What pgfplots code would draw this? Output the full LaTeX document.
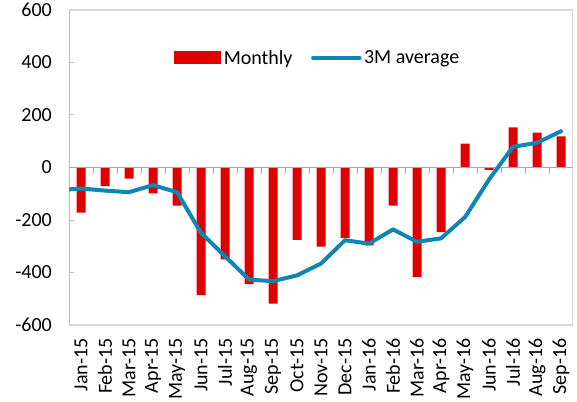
\documentclass[border=0pt]{standalone}
\usepackage{pgfplots}
\pgfplotsset{compat=1.18}
\usepackage{pgfplotstable}
\usepackage{fontspec}
\setmainfont{Carlito}
\definecolor{barred}{RGB}{224,0,0}
\definecolor{lineblue}{RGB}{14,134,180}
\definecolor{framegray}{RGB}{217,217,217}
\definecolor{axisgray}{RGB}{190,190,190}
\definecolor{zerogray}{RGB}{166,166,166}

\pgfplotstableread{
x y
0 -172
1 -71
2 -42
3 -99
4 -145
5 -486
6 -350
7 -444
8 -519
9 -276
10 -301
11 -268
12 -297
13 -145
14 -418
15 -246
16 91
17 -9
18 153
19 133
20 119
}\monthly

\pgfplotstableread{
x y
-1 -87
0 -80
1 -88
2 -94
3 -67
4 -94
5 -249
6 -338
7 -427
8 -433
9 -411
10 -366
11 -277
12 -290
13 -236
14 -283
15 -270
16 -189
17 -46
18 79
19 94
20 138
}\threem

\begin{document}
\begin{tikzpicture}[font=\fontsize{20}{24}\selectfont]
\path[use as bounding box] (-69pt,-76pt) rectangle (508pt,325pt);
\begin{axis}[
  at={(0pt,0pt)}, anchor=south west,
  scale only axis,
  width=504pt, height=315pt,
  xmin=-0.5, xmax=20.5,
  ymin=-600, ymax=600,
  ytick={-600,-400,...,600},
  ytick pos=left,
  tick align=inside,
  major tick length=5pt,
  ytick style={draw=axisgray, line width=1pt},
  xtick={0,...,20},
  xticklabels={Jan-15,Feb-15,Mar-15,Apr-15,May-15,Jun-15,Jul-15,Aug-15,Sep-15,Oct-15,Nov-15,Dec-15,Jan-16,Feb-16,Mar-16,Apr-16,May-16,Jun-16,Jul-16,Aug-16,Sep-16},
  xtick style={draw=none},
  xticklabel style={rotate=90, anchor=east, inner sep=0pt, xshift=-13pt},
  yticklabel style={inner sep=0pt, xshift=-17pt, anchor=east},
  /pgf/number format/assume math mode=true,
  axis line style={draw=none},
  clip=true,
  legend style={draw=none, fill=none, at={(0.494,0.848)}, anchor=center,
    legend columns=2,
    nodes={inner xsep=2.5pt, inner ysep=0pt},
    /tikz/every even column/.append style={column sep=16pt}},
]
% frame
\draw[framegray, line width=1.2pt] (rel axis cs:0,1) -- (rel axis cs:1,1) -- (rel axis cs:1,0) -- (rel axis cs:0,0);
\draw[axisgray, line width=1.5pt] (rel axis cs:0,0) -- (rel axis cs:0,1);

\addplot[ybar, bar width=9pt, fill=barred, draw=none,
  legend image code/.code={\fill[barred] (-4pt,-6.5pt) rectangle (43pt,6.5pt);}]
  table[x=x, y=y] {\monthly};
\addlegendentry{Monthly}

% zero line with ticks at category boundaries
\draw[zerogray, line width=1.5pt] (axis cs:-0.5,0) -- (axis cs:20.5,0);
\pgfplotsinvokeforeach{0,...,20}{
  \draw[zerogray, line width=1pt] (axis cs:#1+0.5,0) -- ++(0pt,-5pt);
}

\addplot[lineblue, line width=4pt, line join=round, line cap=round, mark=none,
  legend image code/.code={\draw[lineblue, line width=4pt, line cap=round] (1.5pt,0pt) -- (48pt,0pt);}]
  table[x=x, y=y] {\threem};
\addlegendentry{3M average}
\end{axis}
\end{tikzpicture}
\end{document}
